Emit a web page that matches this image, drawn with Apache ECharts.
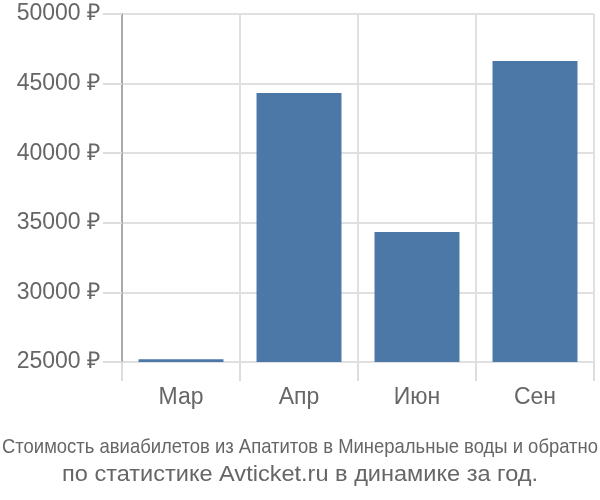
<!DOCTYPE html>
<html><head><meta charset="utf-8">
<script src="https://cdn.jsdelivr.net/npm/echarts@6/dist/echarts.min.js"></script>
<style>html,body{margin:0;padding:0;background:#fff}#c{width:600px;height:500px}</style>
</head><body><div id="c"></div>
<script>
var categories = ['Мар', 'Апр', 'Июн', 'Сен'];
var prices = [25200, 44330, 34340, 46620];
var yTicks = [25000, 30000, 35000, 40000, 45000, 50000];
var titleLine1 = 'Стоимость авиабилетов из Апатитов в Минеральные воды и обратно';
var titleLine2 = 'по статистике Avticket.ru в динамике за год.';

var FONT = 'Liberation Sans, Arial, sans-serif';
function fitScale(text, font, target) {
  var ctx = document.createElement('canvas').getContext('2d');
  ctx.font = font;
  return target / ctx.measureText(text).width;
}
var f1 = '21px "Liberation Sans", Arial, sans-serif';
var f2 = '22px "Liberation Sans", Arial, sans-serif';
var s1 = fitScale(titleLine1, f1, 596);
var s2 = fitScale(titleLine2, f2, 476);

var chart = echarts.init(document.getElementById('c'));
chart.setOption({
  animation: false,
  graphic: [
    {type: 'text', x: 300, y: 447, scaleX: s1,
     style: {text: titleLine1, font: f1, fill: '#666', textAlign: 'center', textVerticalAlign: 'middle'}},
    {type: 'text', x: 300, y: 475, scaleX: s2,
     style: {text: titleLine2, font: f2, fill: '#666', textAlign: 'center', textVerticalAlign: 'middle'}}
  ],
  grid: {left: 122, right: 6, top: 14, bottom: 138},
  xAxis: {
    type: 'category', data: categories,
    axisLine: {show: false},
    axisTick: {show: true, length: 19, lineStyle: {color: '#ddd', width: 2}},
    splitLine: {show: true, lineStyle: {color: '#e0e0e0', width: 2}},
    axisLabel: {color: '#666', fontSize: 23, fontFamily: FONT, margin: 24}
  },
  yAxis: {
    type: 'value', min: yTicks[0], max: yTicks[yTicks.length - 1], interval: 5000,
    axisLine: {show: true, lineStyle: {color: '#aaa', width: 2}},
    axisTick: {show: true, length: 19, lineStyle: {color: '#ddd', width: 2}},
    splitLine: {show: true, lineStyle: {color: '#e0e0e0', width: 2}},
    axisLabel: {color: '#666', fontSize: 23, fontFamily: FONT, margin: 22,
      formatter: function (v) { return v + ' ₽'; }}
  },
  series: [{
    type: 'bar', data: prices, barWidth: '72%',
    itemStyle: {color: '#4c78a8'}
  }]
});
</script></body></html>
